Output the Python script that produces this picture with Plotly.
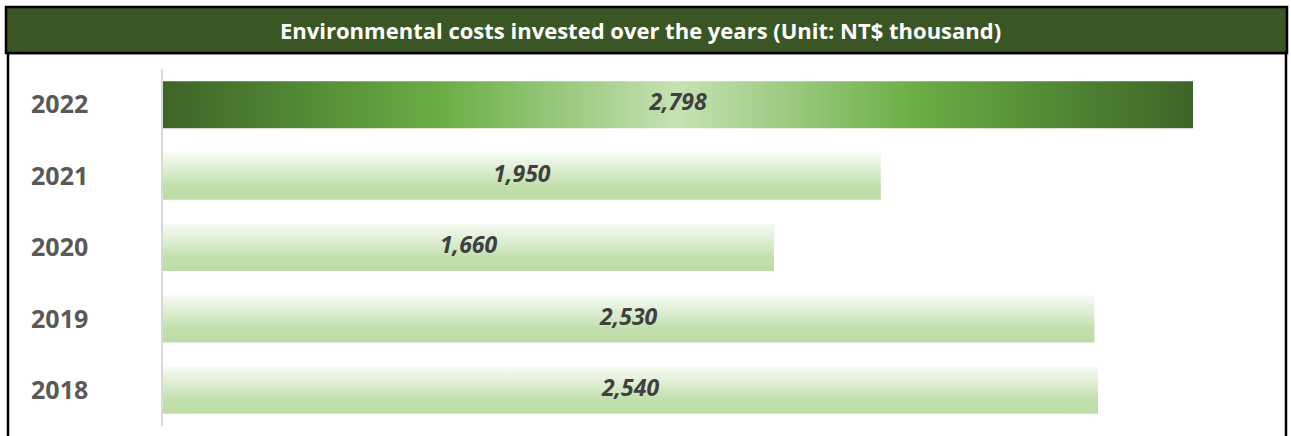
import plotly.graph_objects as go

# ---- data ----
years = ["2022", "2021", "2020", "2019", "2018"]
values = [2798, 1950, 1660, 2530, 2540]
highlight_year = "2022"
title_text = "Environmental costs invested over the years (Unit: NT$ thousand)"

W, H = 1291, 436
BAR_HALF = 0.33

highlight_scale = [
    [0.0, "#3e6427"], [0.12, "#4f8533"], [0.27, "#6aae45"],
    [0.5, "#c6e2b3"],
    [0.73, "#6aae45"], [0.88, "#4f8533"], [1.0, "#3e6427"],
]
light_scale = [
    [0.0, "#bcdca5"], [0.3, "#c2e0ad"], [0.65, "#deeed3"], [1.0, "#f7fbf4"],
]

n = len(years)
fig = go.Figure()
for i, (yr, v) in enumerate(zip(years, values)):
    yc = n - 1 - i
    xs = [0, v, v, 0, 0]
    ys = [yc - BAR_HALF, yc - BAR_HALF, yc + BAR_HALF, yc + BAR_HALF, yc - BAR_HALF]
    if yr == highlight_year:
        grad = dict(type="horizontal", colorscale=highlight_scale)
    else:
        grad = dict(type="vertical", colorscale=light_scale)
    fig.add_trace(go.Scatter(
        x=xs, y=ys, mode="lines", fill="toself",
        line=dict(width=0, color="rgba(0,0,0,0)"),
        fillgradient=grad, hoverinfo="skip", showlegend=False,
    ))

fig.add_trace(go.Scatter(
    x=[v / 2 for v in values],
    y=[n - 1 - i for i in range(n)],
    mode="text",
    text=[f"{v:,}" for v in values],
    textposition="middle center",
    textfont=dict(family="Open Sans", size=23, color="#404040",
                  weight="bold", style="italic"),
    showlegend=False, hoverinfo="skip",
))

px_per_unit = (1193 - 163) / max(values)
x_right_px = 1240
fig.update_xaxes(
    domain=[163 / W, x_right_px / W],
    range=[0, (x_right_px - 163) / px_per_unit],
    showgrid=False, zeroline=False, showticklabels=False, showline=False,
)
fig.update_yaxes(
    domain=[1 - 426 / H, 1 - 69 / H],
    range=[-0.5, n - 0.5],
    tickvals=[n - 1 - i for i in range(n)],
    ticktext=years,
    tickfont=dict(family="Open Sans", size=25, color="#595959", weight="bold"),
    ticks="", ticklabelstandoff=68,
    showgrid=False, zeroline=False,
    showline=True, linecolor="#d9d9d9", linewidth=1.5,
)

fig.update_layout(
    width=W, height=H,
    margin=dict(l=0, r=0, t=0, b=0),
    paper_bgcolor="white", plot_bgcolor="white",
    shapes=[
        dict(type="rect", xref="paper", yref="paper",
             x0=8 / W, x1=1286 / W, y0=-0.05, y1=1 - 53 / H,
             line=dict(color="black", width=2.5), fillcolor="rgba(0,0,0,0)",
             layer="above"),
        dict(type="rect", xref="paper", yref="paper",
             x0=6 / W, x1=1287 / W, y0=1 - 53 / H, y1=1 - 7 / H,
             line=dict(color="black", width=2.5), fillcolor="#3a5624",
             layer="above"),
    ],
    annotations=[
        dict(text=title_text, xref="paper", yref="paper",
             x=640 / W, y=1 - 30 / H, xanchor="center", yanchor="middle",
             showarrow=False,
             font=dict(family="Open Sans", size=22, color="white", weight="bold")),
    ],
)

fig.write_html("out.html",
               config={"displayModeBar": False},
               post_script="document.body.style.margin='0';document.body.style.overflow='hidden';")
